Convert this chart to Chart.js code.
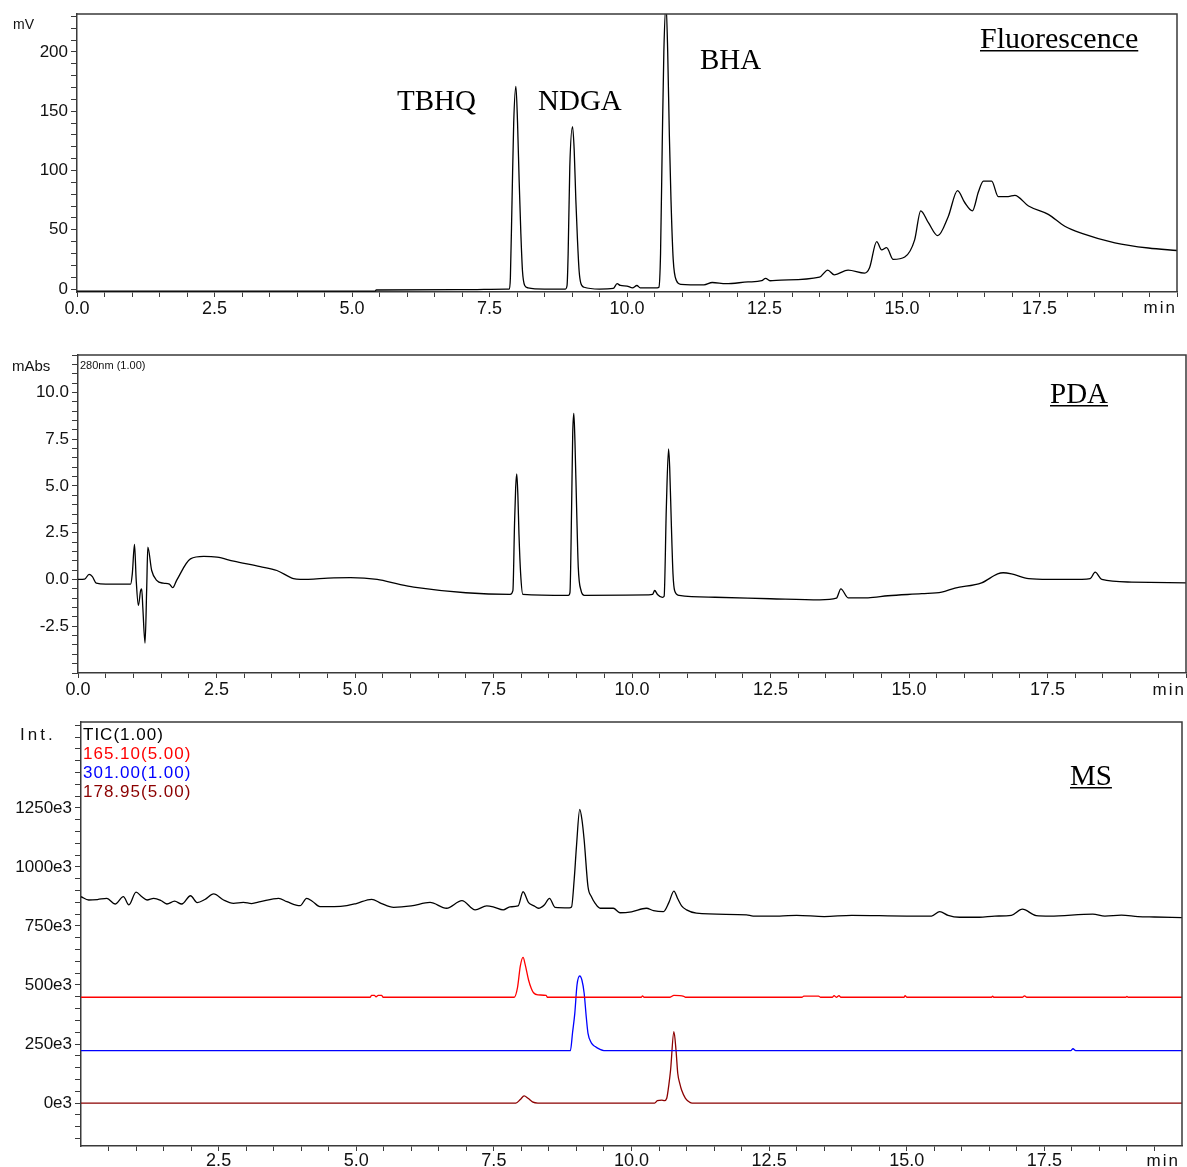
<!DOCTYPE html>
<html lang="en">
<head>
<meta charset="UTF-8">
<title>Fluorescence / PDA / MS chromatograms</title>
<script src="https://cdn.jsdelivr.net/npm/chart.js"></script>
<style>
  body { margin: 0; background: #fff; }
  canvas { position: absolute; left: 0; }
  #fluoChart { top: 0; }
  #pdaChart { top: 330px; }
  #msChart { top: 705px; }
</style>
</head>
<body>
<canvas id="fluoChart" width="1187" height="330"></canvas>
<canvas id="pdaChart" width="1187" height="375"></canvas>
<canvas id="msChart" width="1187" height="462"></canvas>
<script>
// ---- data (time in min) ----
const fluoTime = [0, 5.42, 5.44, 7.0, 7.8, 7.86, 7.88, 7.91, 7.94, 7.98, 8.01, 8.04, 8.07, 8.10, 8.14, 8.2, 8.5,
  8.88, 8.91, 8.93, 8.96, 9.01, 9.04, 9.07, 9.10, 9.13, 9.16, 9.22, 9.5, 9.75, 9.82, 9.88, 10.0, 10.1, 10.18, 10.24,
  10.55, 10.58, 10.61, 10.64, 10.67, 10.71, 10.74, 10.77, 10.80, 10.84, 10.90, 10.98, 11.4, 11.55, 11.8, 12.2, 12.45,
  12.52, 12.6, 12.8, 13.5, 13.65, 13.77, 14.02, 14.32, 14.41, 14.54, 14.63, 14.72, 14.84, 15.05, 15.23, 15.34, 15.48,
  15.65, 15.84, 16.01, 16.14, 16.28, 16.39, 16.48, 16.63, 16.75, 16.93, 17.05, 17.30, 17.66, 17.96, 18.27, 18.87, 19.48, 20.0];
const fluoSignal = [-1.7, -1.7, -0.8, -0.5, 0, 0, 10, 75, 140, 171, 140, 90, 47, 15, 3, 1, 0,
  0, 3, 30, 103, 137, 117, 75, 41, 15, 5, 1.5, 0, 0.5, 4.5, 3, 2.5, 1, 3, 1,
  1, 1.5, 30, 120, 200, 240, 200, 130, 75, 25, 7, 4, 3.5, 5.5, 4.5, 6, 7,
  9, 7, 7.5, 10, 16, 12, 16, 13.5, 18, 40, 33, 35, 25, 27, 41.5, 66, 56,
  45, 61, 83, 73, 66, 82, 91, 91, 78, 78, 79, 70, 63, 53, 47, 39, 34.6, 32.5];

const pdaTime = [0, 0.12, 0.2, 0.26, 0.33, 0.5, 0.95, 0.98, 1.02, 1.05, 1.09, 1.13, 1.15, 1.17, 1.21, 1.24, 1.26,
  1.33, 1.42, 1.54, 1.65, 1.71, 1.78, 2.03, 2.27, 2.51, 2.81, 3.29, 3.59, 3.89, 4.01, 4.62, 4.92, 5.40, 5.82, 6.06,
  7.0, 7.8, 7.85, 7.88, 7.90, 7.92, 7.94, 7.96, 7.99, 8.03, 8.85, 8.88, 8.91, 8.93, 8.95, 8.97, 9.0, 9.03, 9.08, 9.14,
  10.3, 10.37, 10.41, 10.46, 10.55, 10.58, 10.62, 10.66, 10.68, 10.71, 10.74, 10.77, 10.85, 11.5, 12.5, 13.39, 13.69,
  13.77, 13.9, 14.26, 14.62, 15.23, 15.59, 15.83, 16.31, 16.6, 16.7, 16.85, 17.16, 17.52, 18.12, 18.27, 18.36, 18.48,
  19.02, 20.0];
const pdaSignal = [0, 0.02, 0.27, 0.15, -0.2, -0.25, -0.25, 0.3, 1.87, 0, -1.39, -0.6, -0.5, -1.5, -3.4, -0.5, 1.73,
  0.48, -0.05, -0.2, -0.25, -0.44, -0.05, 1.1, 1.23, 1.19, 0.98, 0.69, 0.48, 0.04, 0, 0.09, 0.1, 0, -0.28, -0.41,
  -0.71, -0.8, -0.6, 3.0, 4.9, 5.65, 4.5, 2.4, 0.3, -0.8, -0.85, -0.7, 3.86, 7.8, 8.88, 7.4, 3.86, 0.66, -0.59, -0.85,
  -0.82, -0.8, -0.59, -0.8, -0.96, -0.9, 3.86, 6.98, 6.0, 2.97, 0.3, -0.6, -0.85, -0.95, -1.03, -1.09, -1.0,
  -0.5, -0.98, -0.98, -0.87, -0.76, -0.68, -0.46, -0.18, 0.3, 0.36, 0.3, 0.04, 0, 0, 0.04, 0.39, 0,
  -0.14, -0.18];

// MS intensities in thousands (e3)
const ticTime = [0, 0.14, 0.3, 0.47, 0.62, 0.77, 0.87, 1.0, 1.1, 1.2, 1.32, 1.45, 1.56, 1.7, 1.83, 1.99, 2.11, 2.25,
  2.41, 2.59, 2.77, 2.95, 3.1, 3.26, 3.59, 3.74, 3.98, 4.1, 4.2, 4.34, 4.6, 4.83, 5.0, 5.28, 5.45, 5.68, 6.0, 6.34,
  6.64, 6.92, 7.16, 7.37, 7.5, 7.67, 7.79, 7.94, 8.03, 8.13, 8.23, 8.31, 8.42, 8.51, 8.61, 8.87, 8.91, 8.96, 9.0,
  9.06, 9.10, 9.14, 9.21, 9.27, 9.34, 9.43, 9.67, 9.79, 10.0, 10.27, 10.4, 10.58, 10.68, 10.77, 10.84, 10.91, 11.0,
  11.18, 12.09, 12.21, 12.69, 13.0, 13.5, 14.0, 15.0, 15.45, 15.6, 15.75, 15.96, 16.32, 16.6, 16.9, 17.1, 17.35,
  17.6, 18.38, 18.6, 18.9, 19.2, 19.5, 20.0];
const ticSignal = [874, 860, 862, 867, 843, 874, 839, 893, 875, 860, 867, 858, 843, 855, 843, 878, 849, 862,
  886, 860, 846, 850, 845, 853, 867, 853, 836, 867, 855, 832, 832, 836, 845, 863, 846, 829, 835, 850,
  825, 857, 818, 835, 830, 818, 831, 835, 895, 849, 835, 825, 840, 867, 829, 827, 830, 950, 1086,
  1244, 1200, 1114, 916, 875, 846, 825, 825, 806, 810, 825, 815, 811, 850, 898, 865, 835, 818,
  804, 797, 792, 792, 795, 790, 795, 792, 792, 811, 795, 787, 787, 792, 795, 821, 794,
  792, 800, 792, 796, 790, 788, 785];

const ion165Time = [0, 5.25, 5.28, 5.33, 5.36, 5.40, 5.46, 5.49, 7.87, 7.93, 7.98, 8.03, 8.07, 8.13, 8.18, 8.22, 8.3,
  8.45, 8.47, 10.18, 10.2, 10.23, 10.7, 10.77, 10.95, 10.98, 13.1, 13.13, 13.4, 13.43, 13.65, 13.68, 13.72, 13.77,
  13.8, 14.95, 14.97, 15.0, 16.54, 16.56, 16.58, 17.1, 17.14, 17.18, 18.98, 19.0, 19.02, 20.0];
const ion165Signal = [448, 448, 456, 456, 450, 456, 456, 448, 448, 490, 580, 617, 585, 521, 485, 467, 458,
  456, 448, 448, 454, 448, 448, 456, 452, 448, 448, 453, 453, 448, 448, 455, 448, 455,
  448, 448, 455, 448, 448, 453, 448, 448, 454, 448, 448, 452, 448, 448];

const ion301Time = [0, 8.89, 8.93, 8.97, 9.01, 9.06, 9.10, 9.14, 9.18, 9.21, 9.27, 9.34, 9.42, 9.5, 17.98, 18.02, 18.07, 20.0];
const ion301Signal = [222, 222, 300, 380, 500, 538, 520, 465, 360, 295, 255, 239, 228, 222, 222, 230, 222, 222];

const ion179Time = [0, 7.9, 7.98, 8.05, 8.12, 8.2, 8.3, 10.42, 10.47, 10.55, 10.6, 10.64, 10.68, 10.71, 10.77,
  10.81, 10.84, 10.88, 10.91, 10.98, 11.06, 11.1, 20.0];
const ion179Signal = [0, 0, 15, 30, 20, 5, 0, 0, 10, 12, 10, 20, 80, 140, 302, 220, 126, 80, 55, 20, 3, 0, 0];

// ---- labels / ticks ----
const timeTicks = [0, 2.5, 5, 7.5, 10, 12.5, 15, 17.5];
const msTimeTicks = [2.5, 5, 7.5, 10, 12.5, 15, 17.5];
const fluoTicks = [0, 50, 100, 150, 200];
const pdaTicks = [-2.5, 0, 2.5, 5, 7.5, 10];
const msTicks = [0, 250, 500, 750, 1000, 1250];
const peakNames = ['TBHQ', 'NDGA', 'BHA'];
const msTraceNames = ['TIC(1.00)', '165.10(5.00)', '301.00(1.00)', '178.95(5.00)'];
const msTraceColors = ['#000000', '#ff0000', '#0000ff', '#8b0000'];

const AXIS = '#3a3a3a';
const SANS = '"Liberation Sans", Arial, sans-serif';
const SERIF = '"Liberation Serif", "Times New Roman", serif';

function steps(min, max, step) {
  const out = [];
  for (let i = 0; min + i * step <= max + 1e-9; i++) out.push(+(min + i * step).toFixed(4));
  return out;
}

function pairs(xs, ys) {
  return xs.map((x, i) => ({ x: x, y: ys[i] }));
}

function line(data, color) {
  return {
    data: data, borderColor: color, borderWidth: 1.3, pointRadius: 0,
    cubicInterpolationMode: 'monotone', fill: false
  };
}

function xAxis(majors, minors, height, pad) {
  return {
    type: 'linear', min: 0, max: 20,
    afterBuildTicks: s => { s.ticks = minors.map(v => ({ value: v })); },
    afterFit: s => { s.height = height; },
    ticks: {
      autoSkip: false, maxRotation: 0, padding: pad, color: '#111',
      font: { family: SANS, size: 18 },
      callback: v => majors.includes(v) ? v.toFixed(1) : ''
    },
    grid: { drawOnChartArea: false, tickLength: 5, color: AXIS, lineWidth: 1 },
    border: { color: AXIS, width: 1.5 }
  };
}

function yAxis(min, max, majors, minors, width, fmt) {
  return {
    type: 'linear', min: min, max: max,
    afterBuildTicks: s => { s.ticks = minors.map(v => ({ value: v })); },
    afterFit: s => { s.width = width; },
    ticks: {
      autoSkip: false, padding: 3, color: '#111',
      font: { family: SANS, size: 17 },
      callback: v => majors.includes(v) ? fmt(v) : ''
    },
    grid: { drawOnChartArea: false, tickLength: 6, color: AXIS, lineWidth: 1 },
    border: { color: AXIS, width: 1.5 }
  };
}

function text(ctx, str, x, y, font, color, align, baseline, spacing) {
  ctx.save();
  ctx.font = font;
  ctx.fillStyle = color;
  ctx.textAlign = align || 'left';
  ctx.textBaseline = baseline || 'middle';
  ctx.letterSpacing = spacing || '0px';
  ctx.fillText(str, x, y);
  ctx.restore();
}

function underlined(ctx, str, x, y, size) {
  ctx.save();
  ctx.font = size + 'px ' + SERIF;
  ctx.fillStyle = '#000';
  ctx.textBaseline = 'alphabetic';
  ctx.fillText(str, x, y);
  const w = ctx.measureText(str).width;
  ctx.fillRect(x, y + 2, w, 1.5);
  ctx.restore();
}

function frame(chart) {
  const a = chart.chartArea, ctx = chart.ctx;
  ctx.save();
  ctx.strokeStyle = AXIS;
  ctx.lineWidth = 1.5;
  ctx.beginPath();
  ctx.moveTo(a.left, a.top);
  ctx.lineTo(a.right, a.top);
  ctx.lineTo(a.right, a.bottom);
  ctx.stroke();
  ctx.restore();
}

function baseOptions(padding, scales) {
  return {
    responsive: false, animation: false,
    layout: { padding: padding, autoPadding: false },
    plugins: { legend: { display: false }, tooltip: { enabled: false } },
    scales: scales
  };
}

// ---- Fluorescence ----
new Chart(document.getElementById('fluoChart'), {
  type: 'line',
  data: { datasets: [line(pairs(fluoTime, fluoSignal), '#000')] },
  options: baseOptions({ top: 14, right: 10, bottom: 8, left: 0 }, {
    x: xAxis(timeTicks, steps(0, 20, 0.5), 30, 1),
    y: yAxis(-2.5, 232, fluoTicks, steps(0, 230, 10), 77, v => String(v))
  }),
  plugins: [{
    id: 'fluoDecor',
    afterDraw(chart) {
      const ctx = chart.ctx, a = chart.chartArea;
      frame(chart);
      text(ctx, 'mV', 13, 25, '14px ' + SANS, '#111');
      text(ctx, 'min', a.right, 308, '17px ' + SANS, '#111', 'right', 'middle', '2px');
      const lx = [397, 538, 700], ly = [110, 110, 69];
      peakNames.forEach((n, i) => text(ctx, n, lx[i], ly[i], '29px ' + SERIF, '#000', 'left', 'alphabetic'));
      underlined(ctx, 'Fluorescence', 980, 48, 30);
    }
  }]
});

// ---- PDA ----
new Chart(document.getElementById('pdaChart'), {
  type: 'line',
  data: { datasets: [line(pairs(pdaTime, pdaSignal), '#000')] },
  options: baseOptions({ top: 25, right: 1, bottom: 4, left: 0 }, {
    x: xAxis(timeTicks, steps(0, 20, 0.5), 28, 1),
    y: yAxis(-5, 12, pdaTicks, steps(-5, 12, 0.5), 78, v => v.toFixed(1))
  }),
  plugins: [{
    id: 'pdaDecor',
    afterDraw(chart) {
      const ctx = chart.ctx, a = chart.chartArea;
      frame(chart);
      text(ctx, 'mAbs', 12, 37, '15px ' + SANS, '#111');
      text(ctx, '280nm (1.00)', 80, 36, '11px ' + SANS, '#111');
      text(ctx, 'min', a.right, 360, '17px ' + SANS, '#111', 'right', 'middle', '2px');
      underlined(ctx, 'PDA', 1050, 73, 29);
    }
  }]
});

// ---- MS ----
new Chart(document.getElementById('msChart'), {
  type: 'line',
  data: {
    datasets: [
      line(pairs(ticTime, ticSignal), msTraceColors[0]),
      line(pairs(ion165Time, ion165Signal), msTraceColors[1]),
      line(pairs(ion301Time, ion301Signal), msTraceColors[2]),
      line(pairs(ion179Time, ion179Signal), msTraceColors[3])
    ]
  },
  options: baseOptions({ top: 17, right: 5, bottom: 0, left: 0 }, {
    x: xAxis(msTimeTicks, steps(0.5, 19.5, 0.5), 21, -1),
    y: yAxis(-182, 1614, msTicks, steps(-150, 1600, 50), 81, v => v + 'e3')
  }),
  plugins: [{
    id: 'msDecor',
    afterDraw(chart) {
      const ctx = chart.ctx, a = chart.chartArea;
      frame(chart);
      text(ctx, 'Int.', 20, 30, '17px ' + SANS, '#111', 'left', 'middle', '3px');
      msTraceNames.forEach((n, i) => text(ctx, n, 83, 30 + i * 19, '17px ' + SANS, msTraceColors[i], 'left', 'middle', '1px'));
      text(ctx, 'min', a.right - 2, 456, '17px ' + SANS, '#111', 'right', 'middle', '2px');
      underlined(ctx, 'MS', 1070, 80, 29);
    }
  }]
});
</script>
</body>
</html>
